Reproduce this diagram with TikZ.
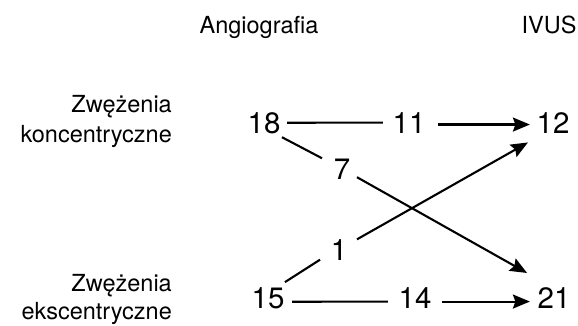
\documentclass[tikz,border=0pt]{standalone}
\usepackage{fontspec}
\setmainfont{TeX Gyre Heros}
\usetikzlibrary{arrows.meta}
\tikzset{
  lbl/.style={inner sep=0pt, font=\fontsize{23.5}{30}\selectfont},
  num/.style={inner sep=0pt, anchor=base, font=\fontsize{29.5}{34}\selectfont},
  conn/.style={line width=2.1pt},
  arr/.style={conn, -{Stealth[length=17pt,width=14pt,inset=2.5pt]}}
}
\begin{document}
\begin{tikzpicture}[x=1pt,y=-1pt]
\useasboundingbox (0,0) rectangle (578,325);
\node[lbl, anchor=base] (hA) at (259,33) {Angiografia};
\node[lbl, anchor=base] (hI) at (549,33) {IVUS};
\node[lbl, anchor=base east, align=right] (rc) at (172,142) {Zwężenia\\koncentryczne};
\node[lbl, anchor=base east, align=right, font=\fontsize{23.5}{28}\selectfont] (re) at (172,319.5) {Zwężenia\\ekscentryczne};
\node[num] (n18) at (264,133) {18};
\node[num] (n11) at (409,133) {11};
\node[num] (n12) at (553,133) {12};
\node[num] (n7) at (342,179) {7};
\node[num] (n1) at (339,260) {1};
\node[num] (n15) at (268,308) {15};
\node[num] (n14) at (415,308) {14};
\node[num] (n21) at (554,308) {21};
\draw[conn, shorten <=6.5pt, shorten >=9.5pt] (n18.east) -- (n11.west);
\draw[arr, shorten <=12.5pt, shorten >=6.5pt] ([yshift=-2pt]n11.east) -- ([yshift=-2pt]n12.west);
\draw[conn, shorten <=7.5pt, shorten >=10.5pt] ([yshift=-4pt]n15.east) -- ([yshift=-4pt]n14.west);
\draw[arr, shorten <=10.5pt, shorten >=7.5pt] ([yshift=-4pt]n14.east) -- ([yshift=-4pt]n21.west);
\draw[conn, shorten <=20.3pt, shorten >=22.6pt] ([yshift=-5pt]n18.center) -- (n7.center);
\draw[arr, shorten <=17.2pt, shorten >=30.9pt] (n7.center) -- ([yshift=9.4pt]n21.center);
\draw[conn, shorten <=20.1pt, shorten >=22.5pt] ([yshift=4.8pt]n15.center) -- ([yshift=2pt]n1.center);
\draw[arr, shorten <=20.7pt, shorten >=28.8pt] (n1.center) -- ([yshift=-5.7pt]n12.center);
\end{tikzpicture}
\end{document}
